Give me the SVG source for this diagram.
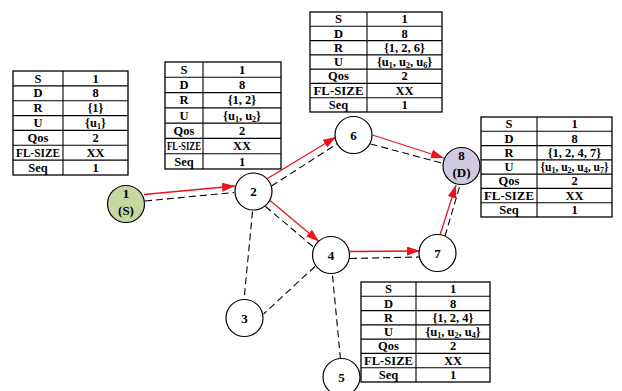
<svg xmlns="http://www.w3.org/2000/svg" width="622" height="391" viewBox="0 0 622 391">
<style>
.tb rect{fill:#fff;stroke:#000;stroke-width:1.3}
.tb line{stroke:#000;stroke-width:1.1}
.tb text{font-family:"Liberation Serif",serif;font-weight:bold;font-size:12.5px;text-anchor:middle;fill:#000}
.tb .sub{font-size:8px}
.node circle{stroke:#000;stroke-width:1.2;fill:#fff}
.node text{font-family:"Liberation Serif",serif;font-weight:bold;font-size:13px;text-anchor:middle;fill:#000}
.red{stroke:#e8161b;stroke-width:1.3;fill:none;marker-end:url(#ah)}
.dash{stroke:#000;stroke-width:1.1;fill:none;stroke-dasharray:7 4}
</style>
<defs>
<marker id="ah" markerUnits="userSpaceOnUse" markerWidth="14" markerHeight="10" refX="13" refY="4.5" orient="auto">
<path d="M0,0 L13,4.5 L0,9 z" fill="#e8161b"/>
</marker>
</defs>

<g id="connectors">
<line class="red" x1="144" y1="194.5" x2="235" y2="186"/>
<line class="dash" x1="145" y1="201" x2="234" y2="192.5"/>
<line class="red" x1="267.5" y1="178.5" x2="336" y2="137"/>
<line class="dash" x1="271.5" y1="186" x2="337.5" y2="143.5"/>
<line class="red" x1="372.5" y1="135" x2="444" y2="158"/>
<line class="dash" x1="370.5" y1="144" x2="443.5" y2="163.5"/>
<line class="red" x1="270" y1="200.5" x2="319" y2="241.5"/>
<line class="dash" x1="265.5" y1="206.5" x2="313.5" y2="247"/>
<line class="red" x1="350" y1="251.5" x2="420" y2="251"/>
<line class="dash" x1="350" y1="258.5" x2="420" y2="257"/>
<line class="red" x1="440" y1="235" x2="456" y2="185"/>
<line class="dash" x1="445" y1="236" x2="459.5" y2="187"/>
<line class="dash" x1="252.5" y1="211.5" x2="244" y2="300"/>
<line class="dash" x1="315" y1="266.5" x2="263.5" y2="314"/>
<line class="dash" x1="332.5" y1="275.5" x2="340.5" y2="359.5"/>
</g>

<g id="node1" class="node"><circle cx="126" cy="204" r="18.5" style="fill:#c5d8a2"/><text x="126" y="198">1</text><text x="126" y="215">(S)</text></g>
<g id="node2" class="node"><circle cx="253.5" cy="191.5" r="18.5"/><text x="253.5" y="196">2</text></g>
<g id="node3" class="node"><circle cx="244.5" cy="318" r="18.5"/><text x="244.5" y="322.5">3</text></g>
<g id="node4" class="node"><circle cx="331" cy="255" r="18.5"/><text x="331" y="259.5">4</text></g>
<g id="node5" class="node"><circle cx="341.5" cy="377" r="18.5"/><text x="341.5" y="381.5">5</text></g>
<g id="node6" class="node"><circle cx="353.5" cy="135" r="18.5"/><text x="353.5" y="139.5">6</text></g>
<g id="node7" class="node"><circle cx="437.5" cy="253" r="18.5"/><text x="437.5" y="257.5">7</text></g>
<g id="node8" class="node"><circle cx="461.5" cy="166" r="18.5" style="fill:#cfcadf"/><text x="461.5" y="160">8</text><text x="461.5" y="177">(D)</text></g>

<g id="table1" class="tb">
<rect x="13" y="71" width="115" height="104"/>
<line x1="63" y1="71" x2="63" y2="175"/>
<line x1="13" y1="85.9" x2="128" y2="85.9"/><line x1="13" y1="100.7" x2="128" y2="100.7"/><line x1="13" y1="115.6" x2="128" y2="115.6"/><line x1="13" y1="130.4" x2="128" y2="130.4"/><line x1="13" y1="145.3" x2="128" y2="145.3"/><line x1="13" y1="160.1" x2="128" y2="160.1"/>
<text x="38" y="82.5">S</text><text x="95.5" y="82.5">1</text>
<text x="38" y="97.3">D</text><text x="95.5" y="97.3">8</text>
<text x="38" y="112.2">R</text><text x="95.5" y="112.2">{1}</text>
<text x="38" y="127">U</text><text x="95.5" y="127">{u<tspan class="sub" dy="2">1</tspan><tspan dy="-2">}</tspan></text>
<text x="38" y="141.9">Qos</text><text x="95.5" y="141.9">2</text>
<text x="38" y="156.7" textLength="44" lengthAdjust="spacingAndGlyphs">FL-SIZE</text><text x="95.5" y="156.7">XX</text>
<text x="38" y="171.6">Seq</text><text x="95.5" y="171.6">1</text>
</g>

<g id="table2" class="tb">
<rect x="165" y="62" width="116" height="107"/>
<line x1="203" y1="62" x2="203" y2="169"/>
<line x1="165" y1="77.3" x2="281" y2="77.3"/><line x1="165" y1="92.6" x2="281" y2="92.6"/><line x1="165" y1="107.9" x2="281" y2="107.9"/><line x1="165" y1="123.1" x2="281" y2="123.1"/><line x1="165" y1="138.4" x2="281" y2="138.4"/><line x1="165" y1="153.7" x2="281" y2="153.7"/>
<text x="184" y="73.8">S</text><text x="242" y="73.8">1</text>
<text x="184" y="89.1">D</text><text x="242" y="89.1">8</text>
<text x="184" y="104.4">R</text><text x="242" y="104.4">{1, 2}</text>
<text x="184" y="119.7">U</text><text x="242" y="119.7">{u<tspan class="sub" dy="2">1</tspan><tspan dy="-2">, u</tspan><tspan class="sub" dy="2">2</tspan><tspan dy="-2">}</tspan></text>
<text x="184" y="134.9">Qos</text><text x="242" y="134.9">2</text>
<text x="184" y="150.2" textLength="34" lengthAdjust="spacingAndGlyphs">FL-SIZE</text><text x="242" y="150.2">XX</text>
<text x="184" y="165.5">Seq</text><text x="242" y="165.5">1</text>
</g>

<g id="table3" class="tb">
<rect x="310" y="12" width="132" height="100"/>
<line x1="367" y1="12" x2="367" y2="112"/>
<line x1="310" y1="26.3" x2="442" y2="26.3"/><line x1="310" y1="40.6" x2="442" y2="40.6"/><line x1="310" y1="54.9" x2="442" y2="54.9"/><line x1="310" y1="69.1" x2="442" y2="69.1"/><line x1="310" y1="83.4" x2="442" y2="83.4"/><line x1="310" y1="97.7" x2="442" y2="97.7"/>
<text x="338.5" y="23.3">S</text><text x="404.5" y="23.3">1</text>
<text x="338.5" y="37.6">D</text><text x="404.5" y="37.6">8</text>
<text x="338.5" y="51.9">R</text><text x="404.5" y="51.9">{1, 2, 6}</text>
<text x="338.5" y="66.1">U</text><text x="404.5" y="66.1">{u<tspan class="sub" dy="2">1</tspan><tspan dy="-2">, u</tspan><tspan class="sub" dy="2">2</tspan><tspan dy="-2">, u</tspan><tspan class="sub" dy="2">6</tspan><tspan dy="-2">}</tspan></text>
<text x="338.5" y="80.4">Qos</text><text x="404.5" y="80.4">2</text>
<text x="338.5" y="94.7" textLength="50" lengthAdjust="spacingAndGlyphs">FL-SIZE</text><text x="404.5" y="94.7">XX</text>
<text x="338.5" y="109">Seq</text><text x="404.5" y="109">1</text>
</g>

<g id="table4" class="tb">
<rect x="481" y="117" width="131" height="100"/>
<line x1="537" y1="117" x2="537" y2="217"/>
<line x1="481" y1="131.3" x2="612" y2="131.3"/><line x1="481" y1="145.6" x2="612" y2="145.6"/><line x1="481" y1="159.9" x2="612" y2="159.9"/><line x1="481" y1="174.1" x2="612" y2="174.1"/><line x1="481" y1="188.4" x2="612" y2="188.4"/><line x1="481" y1="202.7" x2="612" y2="202.7"/>
<text x="509" y="128.3">S</text><text x="574.5" y="128.3">1</text>
<text x="509" y="142.6">D</text><text x="574.5" y="142.6">8</text>
<text x="509" y="156.9">R</text><text x="574.5" y="156.9">{1, 2, 4, 7}</text>
<text x="509" y="171.1">U</text><text x="574.5" y="171.1" style="font-size:11.5px">{u<tspan class="sub" dy="2">1</tspan><tspan dy="-2">, u</tspan><tspan class="sub" dy="2">2</tspan><tspan dy="-2">, u</tspan><tspan class="sub" dy="2">4</tspan><tspan dy="-2">, u</tspan><tspan class="sub" dy="2">7</tspan><tspan dy="-2">}</tspan></text>
<text x="509" y="185.4">Qos</text><text x="574.5" y="185.4">2</text>
<text x="509" y="199.7" textLength="50" lengthAdjust="spacingAndGlyphs">FL-SIZE</text><text x="574.5" y="199.7">XX</text>
<text x="509" y="214">Seq</text><text x="574.5" y="214">1</text>
</g>

<g id="table5" class="tb">
<rect x="361" y="282" width="129" height="100"/>
<line x1="416" y1="282" x2="416" y2="382"/>
<line x1="361" y1="296.3" x2="490" y2="296.3"/><line x1="361" y1="310.6" x2="490" y2="310.6"/><line x1="361" y1="324.9" x2="490" y2="324.9"/><line x1="361" y1="339.1" x2="490" y2="339.1"/><line x1="361" y1="353.4" x2="490" y2="353.4"/><line x1="361" y1="367.7" x2="490" y2="367.7"/>
<text x="388.5" y="293.3">S</text><text x="453" y="293.3">1</text>
<text x="388.5" y="307.6">D</text><text x="453" y="307.6">8</text>
<text x="388.5" y="321.9">R</text><text x="453" y="321.9">{1, 2, 4}</text>
<text x="388.5" y="336.1">U</text><text x="453" y="336.1">{u<tspan class="sub" dy="2">1</tspan><tspan dy="-2">, u</tspan><tspan class="sub" dy="2">2</tspan><tspan dy="-2">, u</tspan><tspan class="sub" dy="2">4</tspan><tspan dy="-2">}</tspan></text>
<text x="388.5" y="350.4">Qos</text><text x="453" y="350.4">2</text>
<text x="388.5" y="364.7" textLength="49" lengthAdjust="spacingAndGlyphs">FL-SIZE</text><text x="453" y="364.7">XX</text>
<text x="388.5" y="379">Seq</text><text x="453" y="379">1</text>
</g>
</svg>
